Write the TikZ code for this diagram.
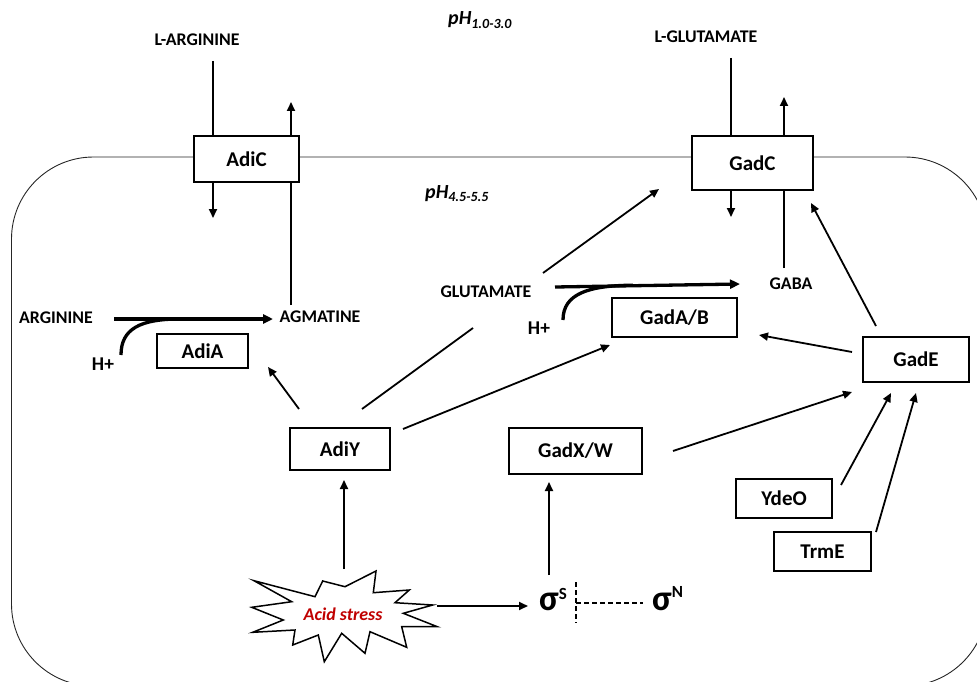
\documentclass[tikz,border=0pt]{standalone}
\usepackage{fontspec}
\setmainfont{Carlito}
\usetikzlibrary{arrows.meta}
\definecolor{stressred}{RGB}{192,0,0}
\begin{document}
\begin{tikzpicture}[x=1pt,y=-1pt,
  lab/.style={font=\bfseries\fontsize{17.8}{20}\selectfont, inner sep=0pt},
  hlab/.style={font=\bfseries\fontsize{19.5}{22}\selectfont, inner sep=0pt},
  phlab/.style={font=\bfseries\itshape\fontsize{20}{22}\selectfont, inner sep=0pt, anchor=base west},
  pbox/.style={draw, line width=1.8pt, fill=white, font=\bfseries\fontsize{21}{24}\selectfont, inner sep=0pt},
  ln/.style={line width=1.8pt},
  arr/.style={line width=1.8pt, -{Triangle[length=9pt,width=8pt]}},
  fatarr/.style={line width=3.3pt, -{Triangle[length=10pt,width=9pt]}},
  fatln/.style={line width=3.3pt},
  membrane/.style={line width=0.9pt, draw=black!85},
  dashln/.style={line width=1.5pt, dash pattern=on 5pt off 3pt},
  sig/.style={inner sep=0pt, anchor=base west, font=\bfseries}
]
\useasboundingbox (0,0) rectangle (977,682);
% cell envelope
\begin{scope}
  \clip (0,0) rectangle (977,682);
  \draw[membrane, rounded corners=82pt] (11.5,157) rectangle (987,686);
\end{scope}

% pH labels
\node[phlab] (pHout) at (448,25) {pH\raisebox{-3.5pt}{\fontsize{14}{16}\selectfont 1.0-3.0}};
\node[phlab] (pHin) at (425,198) {pH\raisebox{-3.5pt}{\fontsize{14}{16}\selectfont 4.5-5.5}};

% text labels
\node[lab] (LARG) at (197,40) {L-ARGININE};
\node[lab] (LGLU) at (706,37) {L-GLUTAMATE};
\node[lab] (ARG) at (56,318) {ARGININE};
\node[lab] (AGM) at (320,317) {AGMATINE};
\node[lab] (GLU) at (486,292) {GLUTAMATE};
\node[lab] (GABA) at (791,284) {GABA};
\node[hlab] (H1) at (103,364) {H+};
\node[hlab] (H2) at (539,328) {H+};

% named points
\coordinate (argIn) at (213,61);
\coordinate (argDown) at (213,218);
\coordinate (agmUp) at (291,102);
\coordinate (agmTop) at (291,305);
\coordinate (gluIn) at (731,58);
\coordinate (gluDown) at (731,217);
\coordinate (gabaUp) at (784,97);
\coordinate (gabaTop) at (784,268);

% membrane boxes
\node[pbox, minimum width=105pt, minimum height=46pt] (AdiC) at (246.5,159) {AdiC};
\node[pbox, minimum width=121pt, minimum height=54pt] (GadC) at (752.5,163) {GadC};

% other boxes
\node[pbox, minimum width=91pt, minimum height=34pt] (AdiA) at (202.5,351) {AdiA};
\node[pbox, minimum width=125pt, minimum height=39pt] (GadAB) at (674.5,317.5) {GadA/B};
\node[pbox, minimum width=100pt, minimum height=42pt] (AdiY) at (340,449) {AdiY};
\node[pbox, minimum width=133pt, minimum height=46pt] (GadXW) at (575.5,451) {GadX/W};
\node[pbox, minimum width=106pt, minimum height=45pt] (GadE) at (916,359.5) {GadE};
\node[pbox, minimum width=96pt, minimum height=39pt] (YdeO) at (784,498.5) {YdeO};
\node[pbox, minimum width=97pt, minimum height=39pt] (TrmE) at (822.5,551.5) {TrmE};

% transport through AdiC
\draw[ln] (argIn) -- (AdiC.north -| argIn);
\draw[arr] (AdiC.south -| argIn) -- (argDown);
\draw[ln] (agmTop) -- (AdiC.south -| agmTop);
\draw[arr] (AdiC.north -| agmTop) -- (agmUp);

% transport through GadC
\draw[ln] (gluIn) -- (GadC.north -| gluIn);
\draw[arr] (GadC.south -| gluIn) -- (gluDown);
\draw[ln] (gabaTop) -- (GadC.south -| gabaTop);
\draw[arr] (GadC.north -| gabaTop) -- (gabaUp);

% decarboxylation reactions
\coordinate (argS) at (114,319);
\coordinate (argE) at (273,319);
\draw[fatarr] (argS) -- (argE);
\coordinate (h1S) at (121,355);
\coordinate (h1E) at (180,319);
\draw[fatln] (h1S) .. controls (121,329) and (140,319) .. (h1E);

\coordinate (gluS) at (555,287);
\coordinate (gluE) at (740,284);
\draw[fatarr] (gluS) -- (gluE);
\coordinate (h2S) at (563,320);
\coordinate (h2E) at (633,285.2);
\draw[fatln] (h2S) .. controls (563,294) and (588,285.5) .. (h2E);

% regulation
\coordinate (ayA1) at (299,409);
\coordinate (ayA2) at (268,367);
\draw[arr] (ayA1) -- (ayA2);

\coordinate (ayC1) at (362,409);
\coordinate (ayC2) at (473,328);
\coordinate (ayC3) at (543,273);
\coordinate (ayC4) at (659,189);
\draw[ln] (ayC1) -- (ayC2);
\draw[arr] (ayC3) -- (ayC4);

\coordinate (ayB1) at (403,429);
\coordinate (ayB2) at (610,345);
\draw[arr] (ayB1) -- (ayB2);

\coordinate (xwE1) at (673,451);
\coordinate (xwE2) at (852,392);
\draw[arr] (xwE1) -- (xwE2);

\coordinate (eB1) at (852,352);
\coordinate (eB2) at (759,335);
\draw[arr] (eB1) -- (eB2);

\coordinate (eC1) at (876,326);
\coordinate (eC2) at (811,203);
\draw[arr] (eC1) -- (eC2);

\coordinate (yE1) at (841,485);
\coordinate (yE2) at (891,393);
\draw[arr] (yE1) -- (yE2);

\coordinate (tE1) at (876,532);
\coordinate (tE2) at (916,393);
\draw[arr] (tE1) -- (tE2);

% acid stress burst
\draw[line width=1.5pt, fill=white, line join=miter]
  (254,580.7) -- (315,596.7) -- (322.7,581) -- (345,586.7) -- (376,571)
  -- (373.3,592.7) -- (409.3,590) -- (395,602.7) -- (432.7,605)
  -- (403.3,613.3) -- (437.3,626.7) -- (401.7,626.7) -- (406.7,647.3)
  -- (370,631.7) -- (365,653.3) -- (341.7,633.3) -- (324.3,661.7)
  -- (318.3,635) -- (292.7,645) -- (295,630) -- (252.7,632.3)
  -- (283.3,620) -- (251.7,607.3) -- (291.7,601.7) -- cycle;
\node[font=\bfseries\itshape\fontsize{18}{20}\selectfont, text=stressred, inner sep=0pt] (stress) at (343,614) {Acid stress};

% sigma factors
\node[sig] (sigS) at (539,610)
  {\fontsize{36}{38}\selectfont σ\raisebox{11pt}{\fontsize{17}{19}\selectfont S}};
\node[sig] (sigN) at (652,610)
  {\fontsize{36}{38}\selectfont σ\raisebox{13pt}{\fontsize{17}{19}\selectfont N}};

\coordinate (stA) at (344,569);
\coordinate (stB) at (344,480);
\draw[arr] (stA) -- (stB);
\coordinate (stC) at (437,606);
\coordinate (stD) at (528,606);
\draw[arr] (stC) -- (stD);
\coordinate (sgA) at (549,575);
\coordinate (sgB) at (549,482);
\draw[arr] (sgA) -- (sgB);

\coordinate (dv1) at (576,582);
\coordinate (dv2) at (576,623);
\coordinate (dh2) at (643,603);
\draw[dashln] (dv1) -- (dv2);
\draw[dashln] (dv1 |- dh2) -- (dh2);
\end{tikzpicture}
\end{document}
